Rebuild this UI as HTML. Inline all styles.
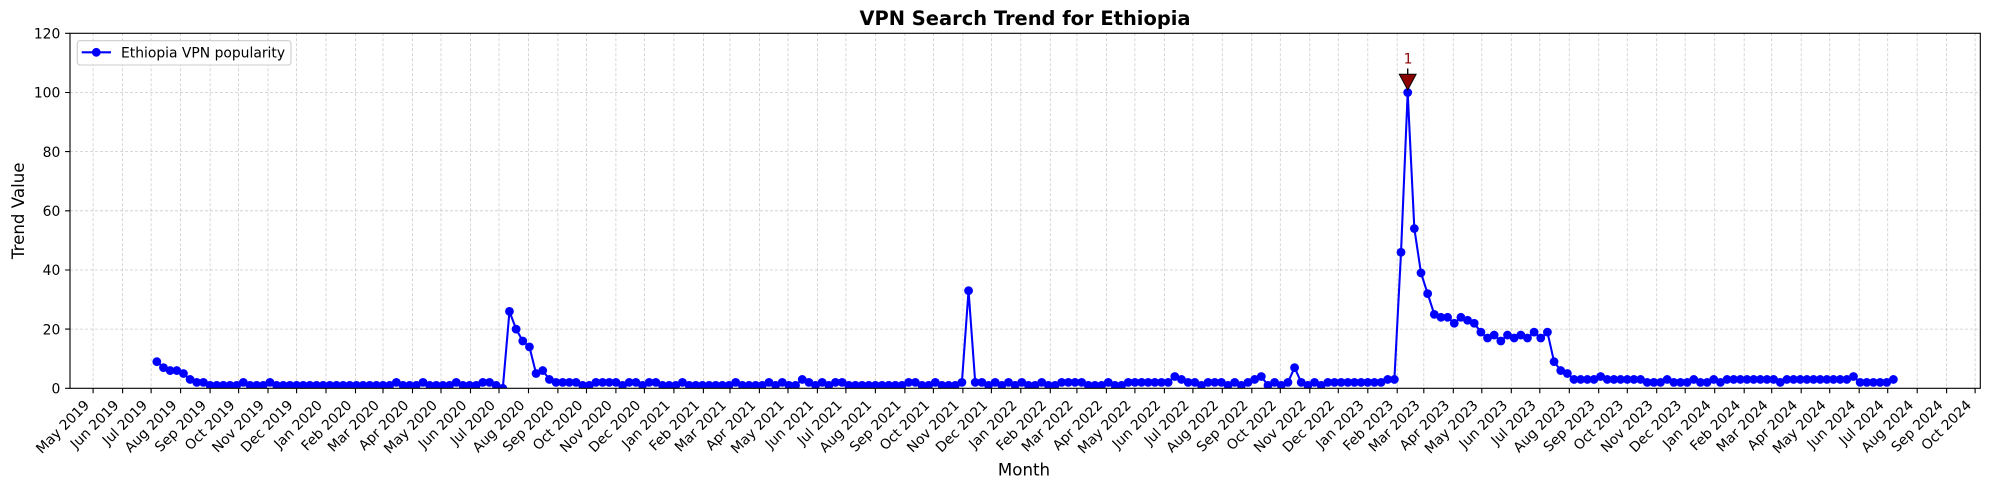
<!DOCTYPE html>
<html><head><meta charset="utf-8"><style>
html,body{margin:0;padding:0;background:#fff;}
svg{display:block;font-family:"DejaVu Sans","Liberation Sans",sans-serif;}
</style></head><body>
<svg width="1990" height="490" viewBox="0 0 1990 490" xmlns="http://www.w3.org/2000/svg">
<defs>
<clipPath id="ax"><rect x="70" y="33.3" width="1910.3" height="355"/></clipPath>
<marker id="dot" markerUnits="userSpaceOnUse" markerWidth="2" markerHeight="4" refX="0" refY="0" overflow="visible"><ellipse cx="0" cy="0" rx="0.6613" ry="1.4874" fill="#0000ff"/></marker>
</defs>
<rect x="0" y="0" width="1990" height="490" fill="#fff"/>
<!-- grid -->
<g stroke="#b0b0b0" stroke-opacity="0.65" stroke-width="0.8" stroke-dasharray="3,2" fill="none">
<path d="M70,329.1H1980.3M70,270H1980.3M70,210.8H1980.3M70,151.6H1980.3M70,92.5H1980.3"/>
<path d="M93.1,33.3V388.3M122.6,33.3V388.3M151.1,33.3V388.3M180.6,33.3V388.3M210.1,33.3V388.3M238.6,33.3V388.3M268,33.3V388.3M296.6,33.3V388.3M326,33.3V388.3M355.5,33.3V388.3M383,33.3V388.3M412.5,33.3V388.3M441,33.3V388.3M470.5,33.3V388.3M499,33.3V388.3M528.5,33.3V388.3M557.9,33.3V388.3M586.5,33.3V388.3M615.9,33.3V388.3M644.4,33.3V388.3M673.9,33.3V388.3M703.4,33.3V388.3M730,33.3V388.3M759.4,33.3V388.3M788,33.3V388.3M817.4,33.3V388.3M845.9,33.3V388.3M875.4,33.3V388.3M904.9,33.3V388.3M933.4,33.3V388.3M962.9,33.3V388.3M991.4,33.3V388.3M1020.8,33.3V388.3M1050.3,33.3V388.3M1076.9,33.3V388.3M1106.4,33.3V388.3M1134.9,33.3V388.3M1164.4,33.3V388.3M1192.9,33.3V388.3M1222.3,33.3V388.3M1251.8,33.3V388.3M1280.3,33.3V388.3M1309.8,33.3V388.3M1338.3,33.3V388.3M1367.8,33.3V388.3M1397.2,33.3V388.3M1423.8,33.3V388.3M1453.3,33.3V388.3M1481.8,33.3V388.3M1511.3,33.3V388.3M1539.8,33.3V388.3M1569.3,33.3V388.3M1598.7,33.3V388.3M1627.3,33.3V388.3M1656.7,33.3V388.3M1685.2,33.3V388.3M1714.7,33.3V388.3M1744.2,33.3V388.3M1771.7,33.3V388.3M1801.2,33.3V388.3M1829.7,33.3V388.3M1859.2,33.3V388.3M1887.7,33.3V388.3M1917.2,33.3V388.3M1946.6,33.3V388.3M1975.1,33.3V388.3"/>
</g>
<!-- data -->
<g clip-path="url(#ax)">
<g transform="translate(156.83,388.3) scale(6.6535,-2.9583)">
<polyline fill="none" stroke="#0000ff" stroke-width="2.08" stroke-linejoin="round" vector-effect="non-scaling-stroke" marker-start="url(#dot)" marker-mid="url(#dot)" marker-end="url(#dot)" points="0,9 1,7 2,6 3,6 4,5 5,3 6,2 7,2 8,1 9,1 10,1 11,1 12,1 13,2 14,1 15,1 16,1 17,2 18,1 19,1 20,1 21,1 22,1 23,1 24,1 25,1 26,1 27,1 28,1 29,1 30,1 31,1 32,1 33,1 34,1 35,1 36,2 37,1 38,1 39,1 40,2 41,1 42,1 43,1 44,1 45,2 46,1 47,1 48,1 49,2 50,2 51,1 52,0 53,26 54,20 55,16 56,14 57,5 58,6 59,3 60,2 61,2 62,2 63,2 64,1 65,1 66,2 67,2 68,2 69,2 70,1 71,2 72,2 73,1 74,2 75,2 76,1 77,1 78,1 79,2 80,1 81,1 82,1 83,1 84,1 85,1 86,1 87,2 88,1 89,1 90,1 91,1 92,2 93,1 94,2 95,1 96,1 97,3 98,2 99,1 100,2 101,1 102,2 103,2 104,1 105,1 106,1 107,1 108,1 109,1 110,1 111,1 112,1 113,2 114,2 115,1 116,1 117,2 118,1 119,1 120,1 121,2 122,33 123,2 124,2 125,1 126,2 127,1 128,2 129,1 130,2 131,1 132,1 133,2 134,1 135,1 136,2 137,2 138,2 139,2 140,1 141,1 142,1 143,2 144,1 145,1 146,2 147,2 148,2 149,2 150,2 151,2 152,2 153,4 154,3 155,2 156,2 157,1 158,2 159,2 160,2 161,1 162,2 163,1 164,2 165,3 166,4 167,1 168,2 169,1 170,2 171,7 172,2 173,1 174,2 175,1 176,2 177,2 178,2 179,2 180,2 181,2 182,2 183,2 184,2 185,3 186,3 187,46 188,100 189,54 190,39 191,32 192,25 193,24 194,24 195,22 196,24 197,23 198,22 199,19 200,17 201,18 202,16 203,18 204,17 205,18 206,17 207,19 208,17 209,19 210,9 211,6 212,5 213,3 214,3 215,3 216,3 217,4 218,3 219,3 220,3 221,3 222,3 223,3 224,2 225,2 226,2 227,3 228,2 229,2 230,2 231,3 232,2 233,2 234,3 235,2 236,3 237,3 238,3 239,3 240,3 241,3 242,3 243,3 244,2 245,3 246,3 247,3 248,3 249,3 250,3 251,3 252,3 253,3 254,3 255,4 256,2 257,2 258,2 259,2 260,2 261,3"/>
</g>
</g>
<!-- annotation -->
<line x1="1407.7" y1="68.5" x2="1407.7" y2="80" stroke="#000" stroke-width="1.4"/>
<polygon points="1399.3,74.3 1416.1,74.3 1407.7,90" fill="#8b0000" stroke="#000" stroke-width="1"/>
<text x="1408" y="63.3" font-size="13.89" fill="#8b0000" text-anchor="middle">1</text>
<!-- spines -->
<rect x="70" y="33.3" width="1910.3" height="355" fill="none" stroke="#000" stroke-width="1.11"/>
<!-- ticks -->
<g stroke="#000" stroke-width="1.11" fill="none">
<path d="M65.1,388.3H70M65.1,329.1H70M65.1,270H70M65.1,210.8H70M65.1,151.6H70M65.1,92.5H70M65.1,33.3H70"/>
<path d="M93.1,388.3v4.9M122.6,388.3v4.9M151.1,388.3v4.9M180.6,388.3v4.9M210.1,388.3v4.9M238.6,388.3v4.9M268,388.3v4.9M296.6,388.3v4.9M326,388.3v4.9M355.5,388.3v4.9M383,388.3v4.9M412.5,388.3v4.9M441,388.3v4.9M470.5,388.3v4.9M499,388.3v4.9M528.5,388.3v4.9M557.9,388.3v4.9M586.5,388.3v4.9M615.9,388.3v4.9M644.4,388.3v4.9M673.9,388.3v4.9M703.4,388.3v4.9M730,388.3v4.9M759.4,388.3v4.9M788,388.3v4.9M817.4,388.3v4.9M845.9,388.3v4.9M875.4,388.3v4.9M904.9,388.3v4.9M933.4,388.3v4.9M962.9,388.3v4.9M991.4,388.3v4.9M1020.8,388.3v4.9M1050.3,388.3v4.9M1076.9,388.3v4.9M1106.4,388.3v4.9M1134.9,388.3v4.9M1164.4,388.3v4.9M1192.9,388.3v4.9M1222.3,388.3v4.9M1251.8,388.3v4.9M1280.3,388.3v4.9M1309.8,388.3v4.9M1338.3,388.3v4.9M1367.8,388.3v4.9M1397.2,388.3v4.9M1423.8,388.3v4.9M1453.3,388.3v4.9M1481.8,388.3v4.9M1511.3,388.3v4.9M1539.8,388.3v4.9M1569.3,388.3v4.9M1598.7,388.3v4.9M1627.3,388.3v4.9M1656.7,388.3v4.9M1685.2,388.3v4.9M1714.7,388.3v4.9M1744.2,388.3v4.9M1771.7,388.3v4.9M1801.2,388.3v4.9M1829.7,388.3v4.9M1859.2,388.3v4.9M1887.7,388.3v4.9M1917.2,388.3v4.9M1946.6,388.3v4.9M1975.1,388.3v4.9"/>
</g>
<!-- y tick labels -->
<g font-size="13.89" fill="#000" text-anchor="end">
<text x="60.3" y="393.5">0</text>
<text x="60.3" y="334.3">20</text>
<text x="60.3" y="275.2">40</text>
<text x="60.3" y="216">60</text>
<text x="60.3" y="156.8">80</text>
<text x="60.3" y="97.7">100</text>
<text x="60.3" y="38.5">120</text>
</g>
<!-- x tick labels -->
<g font-size="13.89" fill="#000" text-anchor="end">
<text transform="translate(90.1,406) rotate(-45)">May 2019</text>
<text transform="translate(119.6,406) rotate(-45)">Jun 2019</text>
<text transform="translate(148.1,406) rotate(-45)">Jul 2019</text>
<text transform="translate(177.6,406) rotate(-45)">Aug 2019</text>
<text transform="translate(207.1,406) rotate(-45)">Sep 2019</text>
<text transform="translate(235.6,406) rotate(-45)">Oct 2019</text>
<text transform="translate(265,406) rotate(-45)">Nov 2019</text>
<text transform="translate(293.6,406) rotate(-45)">Dec 2019</text>
<text transform="translate(323,406) rotate(-45)">Jan 2020</text>
<text transform="translate(352.5,406) rotate(-45)">Feb 2020</text>
<text transform="translate(380,406) rotate(-45)">Mar 2020</text>
<text transform="translate(409.5,406) rotate(-45)">Apr 2020</text>
<text transform="translate(438,406) rotate(-45)">May 2020</text>
<text transform="translate(467.5,406) rotate(-45)">Jun 2020</text>
<text transform="translate(496,406) rotate(-45)">Jul 2020</text>
<text transform="translate(525.5,406) rotate(-45)">Aug 2020</text>
<text transform="translate(554.9,406) rotate(-45)">Sep 2020</text>
<text transform="translate(583.5,406) rotate(-45)">Oct 2020</text>
<text transform="translate(612.9,406) rotate(-45)">Nov 2020</text>
<text transform="translate(641.4,406) rotate(-45)">Dec 2020</text>
<text transform="translate(670.9,406) rotate(-45)">Jan 2021</text>
<text transform="translate(700.4,406) rotate(-45)">Feb 2021</text>
<text transform="translate(727,406) rotate(-45)">Mar 2021</text>
<text transform="translate(756.4,406) rotate(-45)">Apr 2021</text>
<text transform="translate(785,406) rotate(-45)">May 2021</text>
<text transform="translate(814.4,406) rotate(-45)">Jun 2021</text>
<text transform="translate(842.9,406) rotate(-45)">Jul 2021</text>
<text transform="translate(872.4,406) rotate(-45)">Aug 2021</text>
<text transform="translate(901.9,406) rotate(-45)">Sep 2021</text>
<text transform="translate(930.4,406) rotate(-45)">Oct 2021</text>
<text transform="translate(959.9,406) rotate(-45)">Nov 2021</text>
<text transform="translate(988.4,406) rotate(-45)">Dec 2021</text>
<text transform="translate(1017.8,406) rotate(-45)">Jan 2022</text>
<text transform="translate(1047.3,406) rotate(-45)">Feb 2022</text>
<text transform="translate(1073.9,406) rotate(-45)">Mar 2022</text>
<text transform="translate(1103.4,406) rotate(-45)">Apr 2022</text>
<text transform="translate(1131.9,406) rotate(-45)">May 2022</text>
<text transform="translate(1161.4,406) rotate(-45)">Jun 2022</text>
<text transform="translate(1189.9,406) rotate(-45)">Jul 2022</text>
<text transform="translate(1219.3,406) rotate(-45)">Aug 2022</text>
<text transform="translate(1248.8,406) rotate(-45)">Sep 2022</text>
<text transform="translate(1277.3,406) rotate(-45)">Oct 2022</text>
<text transform="translate(1306.8,406) rotate(-45)">Nov 2022</text>
<text transform="translate(1335.3,406) rotate(-45)">Dec 2022</text>
<text transform="translate(1364.8,406) rotate(-45)">Jan 2023</text>
<text transform="translate(1394.2,406) rotate(-45)">Feb 2023</text>
<text transform="translate(1420.8,406) rotate(-45)">Mar 2023</text>
<text transform="translate(1450.3,406) rotate(-45)">Apr 2023</text>
<text transform="translate(1478.8,406) rotate(-45)">May 2023</text>
<text transform="translate(1508.3,406) rotate(-45)">Jun 2023</text>
<text transform="translate(1536.8,406) rotate(-45)">Jul 2023</text>
<text transform="translate(1566.3,406) rotate(-45)">Aug 2023</text>
<text transform="translate(1595.7,406) rotate(-45)">Sep 2023</text>
<text transform="translate(1624.3,406) rotate(-45)">Oct 2023</text>
<text transform="translate(1653.7,406) rotate(-45)">Nov 2023</text>
<text transform="translate(1682.2,406) rotate(-45)">Dec 2023</text>
<text transform="translate(1711.7,406) rotate(-45)">Jan 2024</text>
<text transform="translate(1741.2,406) rotate(-45)">Feb 2024</text>
<text transform="translate(1768.7,406) rotate(-45)">Mar 2024</text>
<text transform="translate(1798.2,406) rotate(-45)">Apr 2024</text>
<text transform="translate(1826.7,406) rotate(-45)">May 2024</text>
<text transform="translate(1856.2,406) rotate(-45)">Jun 2024</text>
<text transform="translate(1884.7,406) rotate(-45)">Jul 2024</text>
<text transform="translate(1914.2,406) rotate(-45)">Aug 2024</text>
<text transform="translate(1943.6,406) rotate(-45)">Sep 2024</text>
<text transform="translate(1972.1,406) rotate(-45)">Oct 2024</text>
</g>
<!-- axis labels & title -->
<text x="1024" y="475.7" font-size="16.67" text-anchor="middle" fill="#000">Month</text>
<text transform="translate(24,210.8) rotate(-90)" font-size="16.67" text-anchor="middle" fill="#000">Trend Value</text>
<text x="1025" y="25.2" font-size="19.44" font-weight="bold" text-anchor="middle" fill="#000">VPN Search Trend for Ethiopia</text>
<!-- legend -->
<rect x="77.3" y="40.7" width="213.7" height="24.3" rx="2.8" ry="2.8" fill="#fff" fill-opacity="0.8" stroke="#cccccc" stroke-width="1.1"/>
<line x1="81.7" y1="52.3" x2="111" y2="52.3" stroke="#0000ff" stroke-width="2.08"/>
<circle cx="96.3" cy="52.3" r="4.4" fill="#0000ff"/>
<text x="121" y="57.3" font-size="13.89" fill="#000">Ethiopia VPN popularity</text>
</svg>
</body></html>
